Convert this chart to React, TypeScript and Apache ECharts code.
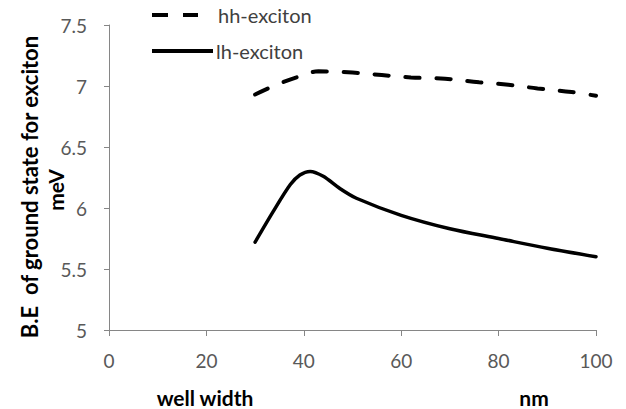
import React, { useEffect, useRef } from "react";
import * as echarts from "echarts";

const hhX = [30, 35, 40, 43, 50, 56, 62, 69, 76, 82, 88, 95, 100];
const hhY = [6.93, 7.02, 7.09, 7.12, 7.11, 7.09, 7.07, 7.06, 7.03, 7.01, 6.98, 6.95, 6.92];
const lhX = [30, 33.7, 37.2, 39.2, 41.3, 44, 47.4, 50.8, 60, 70, 80, 90, 100];
const lhY = [5.72, 5.97, 6.19, 6.27, 6.3, 6.26, 6.16, 6.08, 5.94, 5.83, 5.75, 5.67, 5.6];
const xTicks = [0, 20, 40, 60, 80, 100];
const yTicks = [5, 5.5, 6, 6.5, 7, 7.5];
const seriesNames = ["hh-exciton", "lh-exciton"];

const FONT = "Lato";

export default function App() {
  const ref = useRef<HTMLDivElement>(null);
  useEffect(() => {
    if (!ref.current) return;
    const chart = echarts.init(ref.current, undefined, { renderer: "svg" });
    const axisLine = { show: true, lineStyle: { color: "#868686", width: 1 } };
    const bold = (text: string, x: number, y: number, rot: number, size: number) => ({
      type: "text",
      x,
      y,
      rotation: rot,
      style: {
        text,
        fontFamily: FONT,
        fontWeight: "bold",
        fontSize: size,
        fill: "#000",
        textAlign: "center",
        textVerticalAlign: "middle",
      },
    });
    chart.setOption({
      animation: false,
      backgroundColor: "#ffffff",
      grid: { left: 109, right: 30, top: 25, bottom: 79 },
      xAxis: {
        type: "value",
        min: xTicks[0],
        max: xTicks[xTicks.length - 1],
        interval: 20,
        axisLine,
        axisTick: { show: true, length: 6, lineStyle: { color: "#868686" } },
        splitLine: { show: false },
        axisLabel: { fontFamily: FONT, fontSize: 19, color: "#595959", margin: 21 },
      },
      yAxis: {
        type: "value",
        min: yTicks[0],
        max: yTicks[yTicks.length - 1],
        interval: 0.5,
        axisLine,
        axisTick: { show: true, length: 5, lineStyle: { color: "#868686" } },
        splitLine: { show: false },
        axisLabel: { fontFamily: FONT, fontSize: 19, color: "#595959", margin: 22 },
      },
      graphic: [
        bold("B.E  of ground state for exciton", 29, 187, Math.PI / 2, 22),
        bold("meV", 55, 190, Math.PI / 2, 21),
        bold("well width", 205, 397, 0, 21),
        bold("nm", 534, 397, 0, 21),
        {
          type: "line",
          shape: { x1: 152, y1: 15, x2: 198, y2: 15 },
          style: { stroke: "#000", lineWidth: 4, lineDash: [16, 15], lineCap: "butt" },
        },
        {
          type: "text",
          x: 218,
          y: 15,
          style: { text: seriesNames[0], fontFamily: FONT, fontSize: 20, fill: "#404040", textVerticalAlign: "middle" },
        },
        {
          type: "line",
          shape: { x1: 152, y1: 51, x2: 213, y2: 51 },
          style: { stroke: "#000", lineWidth: 4, lineCap: "butt" },
        },
        {
          type: "text",
          x: 216,
          y: 51,
          style: { text: seriesNames[1], fontFamily: FONT, fontSize: 20, fill: "#404040", textVerticalAlign: "middle" },
        },
      ],
      series: [
        {
          name: seriesNames[0],
          type: "line",
          smooth: 0.4,
          showSymbol: false,
          symbol: "none",
          data: hhX.map((x, i) => [x, hhY[i]]),
          lineStyle: { color: "#000", width: 4, type: [14, 17], cap: "round" },
          itemStyle: { color: "#000" },
        },
        {
          name: seriesNames[1],
          type: "line",
          smooth: 0.3,
          showSymbol: false,
          symbol: "none",
          data: lhX.map((x, i) => [x, lhY[i]]),
          lineStyle: { color: "#000", width: 3.5, type: "solid", cap: "round" },
          itemStyle: { color: "#000" },
        },
      ],
    });
    return () => chart.dispose();
  }, []);
  return <div ref={ref} style={{ width: 626, height: 409, position: "absolute", left: 0, top: 0 }} />;
}
